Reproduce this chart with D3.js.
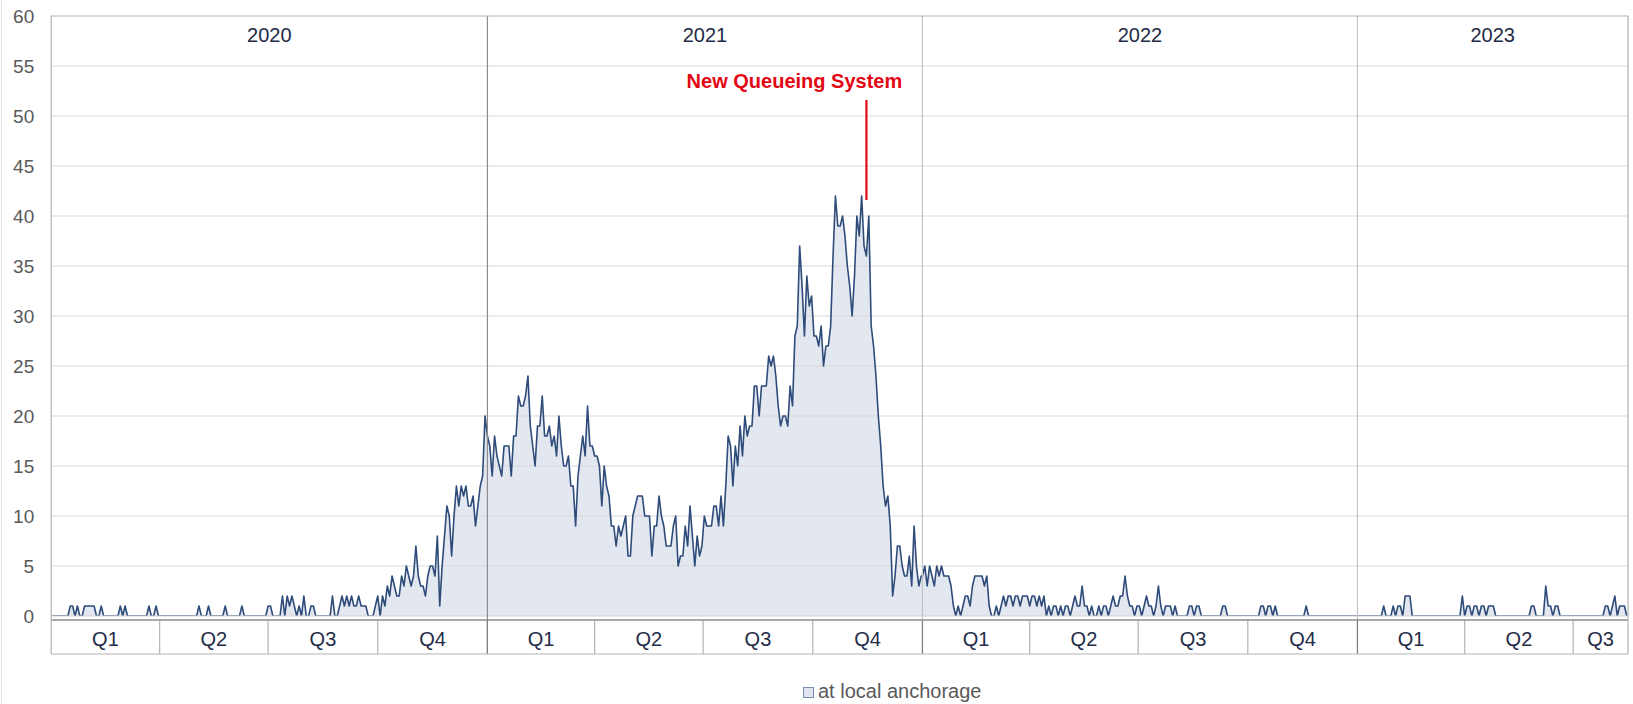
<!DOCTYPE html>
<html>
<head>
<meta charset="utf-8">
<script src="https://cdn.jsdelivr.net/npm/d3@7"></script>
<style>
  html, body { margin: 0; padding: 0; background: #fff; }
  svg { display: block; font-family: "Liberation Sans", Arial, sans-serif; }
</style>
</head>
<body>
<div id="chart"></div>
<script>
// ships at local anchorage, every 2nd day from Jan 1 of each year
const values2020 = [
  0,0,0,0,0,0,0,0,1,1, 0,1,0,0,1,1,1,1,1,0, 0,1,0,0,0,0,0,0,0,1, 0,1,0,0,0,0,0,0,0,0,
  0,1,0,0,1,0,0,0,0,0, 0,0,0,0,0,0,0,0,0,0, 0,0,1,0,0,0,1,0,0,0, 0,0,0,1,0,0,0,0,0,0,
  1,0,0,0,0,0,0,0,0,0, 0,1,1,0,0,0,0,2,0,2, 1,2,1,0,1,0,2,0,0,1, 1,0,0,0,0,0,0,0,2,0,
  0,1,2,1,2,1,2,1,1,2, 1,1,1,0,0,0,1,2,0,2, 1,3,2,4,3,2,2,4,3,5, 4,3,4,7,4,3,3,2,4,5,
  5,4,8,1,5,8,11,10,6,10, 13,11,13,12,13,11,11,12,9,11, 13,14,20
];
const values2021 = [
  18,17,14,18,16,15,14,17,17,17, 14,18,18,22,21,21,22,24,19,17, 15,19,19,22,18,18,19,17,18,16,
  20,17,15,15,16,13,13,9,14,16, 18,16,21,17,17,16,16,15,11,15, 13,12,9,9,7,9,8,9,10,6,
  6,10,11,12,12,12,10,10,10,6, 9,9,12,10,9,7,7,7,9,10, 5,6,6,9,7,11,8,5,8,6,
  7,10,9,9,9,11,11,9,12,9, 13,18,17,13,17,15,19,16,20,18, 19,19,23,23,20,23,23,23,26,25,
  26,24,21,19,20,20,19,23,21,28, 29,37,33,28,34,31,32,28,28,27, 29,25,27,27,29,36,42,39,39,40,
  38,35,33,30,34,40,38,42,37,36, 40,29,27,24,20,17,13,11,12,9, 2,4,7,7,5,4,4,6,3,9,
  5,3,4
];
const values2022 = [
  4,5,3,5,4,3,5,4,5,4, 4,4,3,1,0,1,0,1,2,2, 1,3,4,4,4,4,3,4,1,0, 0,1,0,1,2,1,2,2,1,2,
  2,1,2,2,2,1,2,2,1,2, 1,2,0,1,0,1,1,0,1,0, 1,1,0,1,2,1,1,3,1,1, 0,1,0,0,1,0,1,1,0,1,
  2,1,1,2,2,4,2,1,1,0, 1,1,0,1,2,1,1,0,1,3, 1,0,1,1,1,0,1,0,0,0, 0,0,1,1,0,1,1,0,0,0,
  0,0,0,0,0,0,1,1,0,0, 0,0,0,0,0,0,0,0,0,0, 0,0,1,1,0,1,1,0,1,0, 0,0,0,0,0,0,0,0,0,0,
  0,1,0,0,0,0,0,0,0,0, 0,0,0,0,0,0,0,0,0,0, 0,0,0
];
const values2023 = [
  0,0,0,0,0,0,0,0,0,0, 0,1,0,0,0,1,0,1,1,0, 2,2,2,0,0,0,0,0,0,0, 0,0,0,0,0,0,0,0,0,0,
  0,0,0,0,2,0,1,1,0,1, 1,0,1,1,0,1,1,1,0,0, 0,0,0,0,0,0,0,0,0,0, 0,0,0,1,1,0,0,0,0,3,
  1,1,0,1,1,0,0,0,0,0, 0,0,0,0,0,0,0,0,0,0, 0,0,0,0,1,1,0,1,2,0, 1,1,1,0
];

const years = [2020, 2021, 2022, 2023];
const quarterLabels = ["Q1", "Q2", "Q3", "Q4"];
const yTicks = [0, 5, 10, 15, 20, 25, 30, 35, 40, 45, 50, 55, 60];
const firstDay = "2020-01-01";
const lastDay = "2023-08-16";
const seriesName = "at local anchorage";

const noteLabel = "New Queueing System";
const noteDate = "2021-11-15";
const noteRange = [41.6, 51.6];
const noteTextValue = 52.8;

const series = [values2020, values2021, values2022, values2023].flatMap((vals, k) =>
  vals.map((v, i) => ({
    date: d3.utcDay.offset(new Date(Date.UTC(years[k], 0, 1)), 2 * i),
    value: v
  }))
);

const size = { x: 1633, y: 704 };
const plot = { left: 51.2, right: 1628, top: 16, bottom: 616 };
const table = { top: 620, bottom: 654 };

const xScale = d3
  .scaleUtc()
  .domain([new Date(firstDay), new Date(lastDay)])
  .range([plot.left, plot.right]);

const yScale = d3
  .scaleLinear()
  .domain([0, 60])
  .range([plot.bottom, plot.top]);

const svg = d3
  .select("#chart")
  .append("svg")
  .attr("width", size.x)
  .attr("height", size.y)
  .attr("viewBox", [0, 0, size.x, size.y]);

// faint frame of the chart area
svg.append("line")
  .attr("x1", 1.5).attr("x2", 1.5)
  .attr("y1", 0).attr("y2", size.y)
  .attr("stroke", "#e3e3e3");

svg.append("clipPath")
  .attr("id", "plotClip")
  .append("rect")
  .attr("x", plot.left)
  .attr("y", plot.top)
  .attr("width", plot.right - plot.left)
  .attr("height", plot.bottom - plot.top);

svg.append("path")
  .datum(series)
  .attr("clip-path", "url(#plotClip)")
  .attr("fill", "#e3e7ef")
  .attr("d", d3.area()
    .x(d => xScale(d.date))
    .y0(yScale(0))
    .y1(d => yScale(d.value)));

// horizontal grid
svg.append("g")
  .selectAll("line")
  .data(yTicks.filter(t => t > 0 && t < 60))
  .join("line")
  .attr("x1", plot.left)
  .attr("x2", plot.right)
  .attr("y1", d => yScale(d))
  .attr("y2", d => yScale(d))
  .attr("stroke", "#d9d9d9")
  .attr("stroke-width", 1.2);

svg.append("path")
  .datum(series)
  .attr("clip-path", "url(#plotClip)")
  .attr("fill", "none")
  .attr("stroke", "#2e4b7a")
  .attr("stroke-width", 1.6)
  .attr("stroke-linejoin", "round")
  .attr("d", d3.line()
    .x(d => xScale(d.date))
    .y(d => yScale(d.value)));

svg.append("line")
  .attr("x1", plot.left).attr("x2", plot.right)
  .attr("y1", yScale(0)).attr("y2", yScale(0))
  .attr("stroke", "#d4d4d4")
  .attr("stroke-width", 1.2);

// y axis labels
svg.append("g")
  .attr("transform", `translate(${plot.left}, 0)`)
  .call(d3.axisLeft(yScale).tickValues(yTicks).tickSize(0).tickPadding(17))
  .call(g => g.select(".domain").remove())
  .call(g => g.selectAll("text")
    .attr("font-family", "'Liberation Sans', Arial, sans-serif")
    .attr("font-size", "19px")
    .attr("fill", "#595959"));

// year bands
const yearStarts = years.map(y => new Date(Date.UTC(y, 0, 1)));
const domainEnd = xScale.domain()[1];

svg.append("g")
  .selectAll("line")
  .data(yearStarts.slice(1))
  .join("line")
  .attr("x1", d => xScale(d))
  .attr("x2", d => xScale(d))
  .attr("y1", plot.top)
  .attr("y2", table.bottom)
  .attr("stroke", (d, i) => i === 0 ? "#8c8c8c" : "#c4c4c4")
  .attr("stroke-width", 1.2);

svg.append("g")
  .selectAll("text")
  .data(yearStarts)
  .join("text")
  .attr("x", d => (xScale(d) + xScale(d3.min([d3.utcYear.offset(d, 1), domainEnd]))) / 2)
  .attr("y", 42)
  .attr("text-anchor", "middle")
  .attr("font-size", "20px")
  .attr("fill", "#1f2b47")
  .text(d => d.getUTCFullYear());

// quarter row
const quarterStarts = d3.utcMonth.every(3).range(xScale.domain()[0], domainEnd);

svg.append("g")
  .selectAll("line")
  .data(quarterStarts.slice(1))
  .join("line")
  .attr("x1", d => xScale(d))
  .attr("x2", d => xScale(d))
  .attr("y1", table.top)
  .attr("y2", table.bottom)
  .attr("stroke", d => d.getUTCMonth() === 0 ? "#7f7f7f" : "#b3b3b3")
  .attr("stroke-width", 1.2);

svg.append("g")
  .selectAll("text")
  .data(quarterStarts)
  .join("text")
  .attr("x", d => (xScale(d) + xScale(d3.min([d3.utcMonth.offset(d, 3), domainEnd]))) / 2)
  .attr("y", 646)
  .attr("text-anchor", "middle")
  .attr("font-size", "20px")
  .attr("fill", "#1f2b47")
  .text(d => quarterLabels[d.getUTCMonth() / 3]);

svg.append("line")
  .attr("x1", plot.left).attr("x2", plot.right)
  .attr("y1", table.top).attr("y2", table.top)
  .attr("stroke", "#8c8c8c")
  .attr("stroke-width", 1.5);

svg.append("line")
  .attr("x1", plot.left).attr("x2", plot.right)
  .attr("y1", table.bottom).attr("y2", table.bottom)
  .attr("stroke", "#b3b3b3")
  .attr("stroke-width", 1.2);

// plot frame
svg.append("path")
  .attr("d", `M${plot.left},${table.bottom}V${plot.top}H${plot.right}V${table.bottom}`)
  .attr("fill", "none")
  .attr("stroke", "#b3b3b3")
  .attr("stroke-width", 1.2);

// annotation
const noteX = xScale(new Date(noteDate));
svg.append("line")
  .attr("x1", noteX).attr("x2", noteX)
  .attr("y1", yScale(noteRange[1]))
  .attr("y2", yScale(noteRange[0]))
  .attr("stroke", "#e30613")
  .attr("stroke-width", 2.2);

svg.append("text")
  .attr("x", noteX - 72)
  .attr("y", yScale(noteTextValue))
  .attr("text-anchor", "middle")
  .attr("font-size", "20px")
  .attr("font-weight", 700)
  .attr("fill", "#e30613")
  .text(noteLabel);

// legend
const legend = svg.append("g").attr("transform", "translate(803, 687)");
legend.append("rect")
  .attr("x", 0.5).attr("y", 0.5)
  .attr("width", 10).attr("height", 10)
  .attr("fill", "#dfe4ee")
  .attr("stroke", "#7a8db0");
legend.append("text")
  .attr("x", 15)
  .attr("y", 11)
  .attr("font-size", "20px")
  .attr("fill", "#595959")
  .text(seriesName);
</script>
</body>
</html>
